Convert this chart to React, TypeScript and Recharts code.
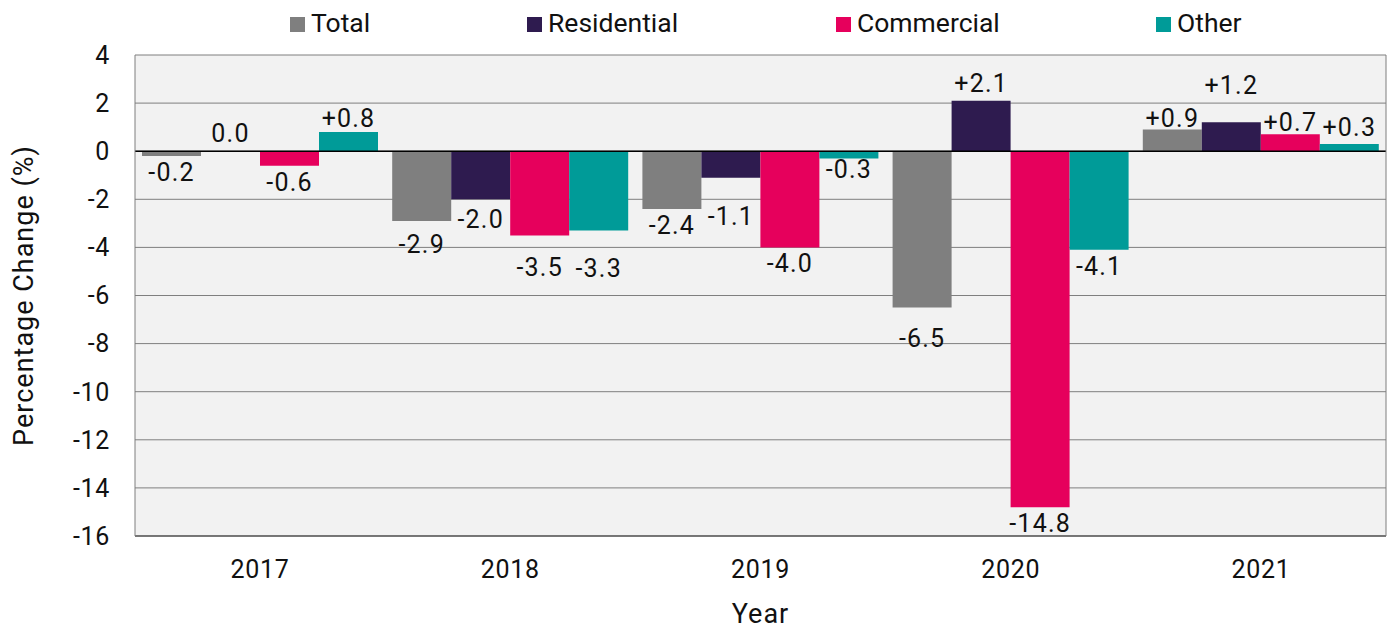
import React from 'react';
import { BarChart, Bar, XAxis, YAxis, CartesianGrid, ReferenceLine, LabelList, Label } from 'recharts';

// ---- data ----
const years = ['2017', '2018', '2019', '2020', '2021'];
const total = [-0.2, -2.9, -2.4, -6.5, 0.9];
const residential = [0.0, -2.0, -1.1, 2.1, 1.2];
const commercial = [-0.6, -3.5, -4.0, -14.8, 0.7];
const other = [0.8, -3.3, -0.3, -4.1, 0.3];
const yTicks = [4, 2, 0, -2, -4, -6, -8, -10, -12, -14, -16];
const seriesNames = ['Total', 'Residential', 'Commercial', 'Other'];
const seriesValues: Record<string, number[]> = {
  Total: total,
  Residential: residential,
  Commercial: commercial,
  Other: other,
};

// ---- styles ----
const colors: Record<string, string> = {
  Total: '#7f7f7f',
  Residential: '#2e1b4f',
  Commercial: '#e6005c',
  Other: '#009b98',
};
const legendLeft: Record<string, number> = { Total: 290, Residential: 527, Commercial: 836, Other: 1156 };
// extra vertical nudges (px) of individual data labels, as placed in the original
const labelNudge: Record<string, number> = {
  'Total-2018': 7,
  'Total-2020': 14,
  'Total-2021': 2,
  'Residential-2017': -4,
  'Residential-2018': 4,
  'Residential-2019': 22,
  'Residential-2020': -4,
  'Residential-2021': -23,
  'Commercial-2018': 16,
  'Commercial-2021': 2,
  'Other-2018': 21,
  'Other-2019': -5,
  'Other-2021': -3,
};
const FONT = 'Roboto, "DejaVu Sans", sans-serif';
const TEXT = '#111';

const data = years.map((year, i) => ({
  year,
  Total: total[i],
  Residential: residential[i],
  Commercial: commercial[i],
  Other: other[i],
}));

const fmt = (v: number) => (v > 0 ? '+' + v.toFixed(1) : v.toFixed(1));

const makeLabel = (key: string) => (props: any) => {
  const { x, y, width, height, value } = props;
  const v = Number(value);
  const idx = typeof props.index === 'number' ? props.index : seriesValues[key].indexOf(v);
  const top = Math.min(y, y + height);
  const bottom = Math.max(y, y + height);
  const nudge = labelNudge[`${key}-${years[idx]}`] || 0;
  const ty = v < 0 ? bottom + 25 + nudge : top - 5 + nudge;
  return (
    <text
      x={x + width / 2}
      y={ty}
      textAnchor="middle"
      fontSize={25}
      letterSpacing={1.2}
      fill={TEXT}
      fontFamily={FONT}
    >
      {fmt(v)}
    </text>
  );
};

export default function App() {
  return (
    <div style={{ position: 'absolute', left: 0, top: 0, width: 1397, height: 630, background: '#fff' }}>
      <BarChart
        width={1397}
        height={630}
        data={data}
        margin={{ top: 55, right: 10, bottom: 34, left: 0 }}
        barCategoryGap={7}
        barGap={0}
        style={{ fontFamily: FONT }}
      >
        <CartesianGrid vertical={false} stroke="#7f7f7f" fill="#f2f2f2" fillOpacity={1} />
        <XAxis
          dataKey="year"
          tickLine={false}
          tickSize={0}
          tickMargin={24}
          height={60}
          axisLine={{ stroke: '#333' }}
          tick={{ fontSize: 25, fill: TEXT, fontFamily: FONT, letterSpacing: 0.7 }}
        >
          <Label
            content={(p: any) => {
              const vb = p.viewBox;
              return (
                <text
                  x={vb.x + vb.width / 2}
                  y={vb.y + 87}
                  textAnchor="middle"
                  fontSize={27}
                  letterSpacing={1}
                  fill={TEXT}
                  fontFamily={FONT}
                >
                  Year
                </text>
              );
            }}
          />
        </XAxis>
        <YAxis
          width={135}
          domain={[-16, 4]}
          ticks={yTicks}
          interval={0}
          tickLine={false}
          tickSize={0}
          tickMargin={25}
          axisLine={{ stroke: '#7f7f7f' }}
          tick={{ fontSize: 25, fill: TEXT, fontFamily: FONT, letterSpacing: 0.7 }}
        >
          <Label
            content={(p: any) => {
              const vb = p.viewBox;
              const cx = vb.x + 24;
              const cy = vb.y + vb.height / 2;
              return (
                <text
                  x={cx}
                  y={cy}
                  transform={`rotate(-90 ${cx} ${cy})`}
                  textAnchor="middle"
                  dominantBaseline="central"
                  fontSize={27}
                  letterSpacing={1}
                  fill={TEXT}
                  fontFamily={FONT}
                >
                  Percentage Change (%)
                </text>
              );
            }}
          />
        </YAxis>
        <YAxis
          yAxisId="right"
          orientation="right"
          width={1}
          domain={[-16, 4]}
          ticks={yTicks}
          tick={false}
          tickLine={false}
          axisLine={{ stroke: '#7f7f7f' }}
        />
        {seriesNames.map((name) => (
          <Bar key={name} dataKey={name} fill={colors[name]} minPointSize={0.01} isAnimationActive={false}>
            <LabelList dataKey={name} content={makeLabel(name)} />
          </Bar>
        ))}
        <ReferenceLine y={0} stroke="#000" strokeWidth={1.5} ifOverflow="visible" />
      </BarChart>
      <svg width={1397} height={48} style={{ position: 'absolute', left: 0, top: 0, pointerEvents: 'none' }}>
        {seriesNames.map((name) => (
          <g key={name}>
            <rect x={legendLeft[name]} y={17} width={15} height={15} fill={colors[name]} />
            <text x={legendLeft[name] + 21} y={32} fontSize={26.5} fill={TEXT} fontFamily={FONT}>
              {name}
            </text>
          </g>
        ))}
      </svg>
    </div>
  );
}
